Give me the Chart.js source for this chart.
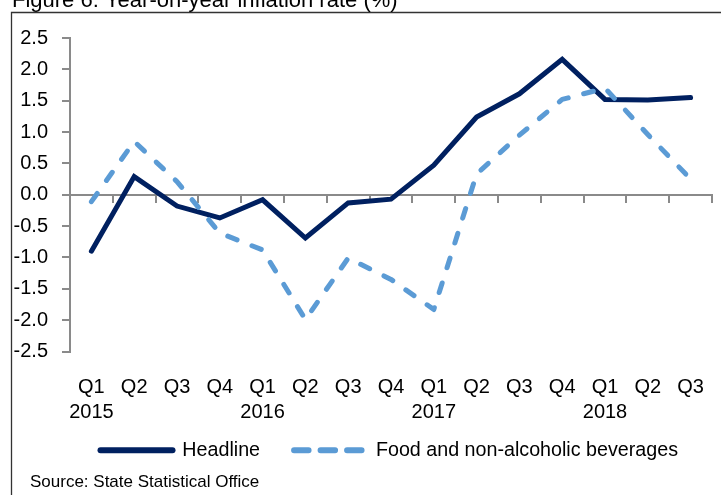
<!DOCTYPE html>
<html>
<head>
<meta charset="utf-8">
<script src="https://cdn.jsdelivr.net/npm/chart.js@4/dist/chart.umd.min.js"></script>
<style>
  html, body { margin: 0; padding: 0; background: #fff; }
  canvas { display: block; }
</style>
</head>
<body>
<canvas id="chart" width="721" height="495"></canvas>
<script>
// Quarterly categories (first quarter of each year carries the year underneath)
const quarters = ['Q1', 'Q2', 'Q3', 'Q4', 'Q1', 'Q2', 'Q3', 'Q4', 'Q1', 'Q2', 'Q3', 'Q4', 'Q1', 'Q2', 'Q3'];
const years = ['2015', '', '', '', '2016', '', '', '', '2017', '', '', '', '2018', '', ''];

// Year-on-year inflation, %
const headline = [-0.9, 0.29, -0.18, -0.37, -0.08, -0.69, -0.13, -0.07, 0.47, 1.24, 1.61, 2.16, 1.52, 1.51, 1.55];
const foodBeverages = [-0.11, 0.85, 0.21, -0.61, -0.88, -1.99, -1.01, -1.35, -1.83, 0.33, 0.95, 1.52, 1.70, 0.96, 0.25];

// Value axis
const yMin = -2.5;
const yMax = 2.5;
const yStep = 0.5;

const titleText = 'Figure 6: Year-on-year inflation rate (%)';
const sourceText = 'Source: State Statistical Office';

const FONT = '"Liberation Sans", Arial, sans-serif';
const AXIS_GREY = '#8a8a8a';
const NAVY = '#002060';
const LIGHT_BLUE = '#5b9bd5';

const labels = quarters.map((q, i) => years[i] ? [q, years[i]] : q);

// Frame, cut-off title and source note around the plot
const decorations = {
  id: 'decorations',
  afterDraw(chart) {
    const ctx = chart.ctx;
    ctx.save();
    ctx.strokeStyle = '#333';
    ctx.lineWidth = 1.3;
    ctx.beginPath();
    ctx.moveTo(11.5, 495);
    ctx.lineTo(11.5, 12.5);
    ctx.lineTo(721, 12.5);
    ctx.stroke();

    ctx.fillStyle = '#000';
    ctx.textAlign = 'left';
    ctx.textBaseline = 'alphabetic';
    ctx.font = '22px ' + FONT;
    ctx.fillText(titleText, 12, 6.5);

    ctx.textBaseline = 'middle';
    ctx.font = '17px ' + FONT;
    ctx.fillText(sourceText, 30, 482);
    ctx.restore();
  }
};

new Chart(document.getElementById('chart'), {
  type: 'line',
  data: {
    labels: labels,
    datasets: [
      {
        label: 'Headline',
        data: headline,
        borderColor: NAVY,
        backgroundColor: NAVY,
        borderWidth: 5,
        borderCapStyle: 'round',
        borderJoinStyle: 'miter',
        pointRadius: 0,
        tension: 0,
        fill: false,
        order: 1
      },
      {
        label: 'Food and non-alcoholic beverages',
        data: foodBeverages,
        borderColor: LIGHT_BLUE,
        backgroundColor: LIGHT_BLUE,
        borderWidth: 5,
        borderDash: [10, 16],
        borderCapStyle: 'round',
        borderJoinStyle: 'round',
        pointRadius: 0,
        tension: 0,
        fill: false,
        order: 0
      }
    ]
  },
  options: {
    responsive: false,
    animation: false,
    devicePixelRatio: 1,
    layout: { padding: { top: 38, left: 0, right: 9, bottom: 25 } },
    plugins: {
      tooltip: { enabled: false },
      title: { display: false },
      legend: {
        position: 'bottom',
        align: 'end',
        labels: {
          usePointStyle: true,
          pointStyle: 'line',
          pointStyleWidth: 72,
          padding: 34,
          color: '#000',
          font: { family: FONT, size: 19.7 },
          sort: (a, b) => a.datasetIndex - b.datasetIndex,
          generateLabels(chart) {
            const items = Chart.defaults.plugins.legend.labels.generateLabels(chart);
            items.forEach(item => {
              item.lineWidth = 6;
              item.lineCap = 'round';
              if (item.datasetIndex === 1) item.lineDash = [14.5, 12];
            });
            return items;
          }
        }
      }
    },
    scales: {
      // category axis carrying the data; reserves the room under the plot
      x: {
        type: 'category',
        position: 'bottom',
        offset: true,
        grid: { display: false },
        border: { display: false },
        ticks: { display: false },
        afterFit(scale) { scale.height = 54.8; }
      },
      // quarter / year labels, anchored at the bottom of the value range
      xLabels: {
        type: 'category',
        labels: labels,
        position: { y: yMin },
        offset: true,
        grid: { display: false },
        border: { display: false },
        ticks: {
          autoSkip: false,
          maxRotation: 0,
          padding: 15,
          color: '#000',
          font: { family: FONT, size: 20, lineHeight: 1.25 }
        }
      },
      // horizontal axis line at zero with a tick at every quarter boundary
      xZero: {
        type: 'linear',
        position: { y: 0 },
        min: 0,
        max: quarters.length,
        grid: {
          drawOnChartArea: false,
          drawTicks: true,
          tickLength: 7,
          color: AXIS_GREY,
          lineWidth: 2
        },
        border: { display: true, color: AXIS_GREY, width: 2 },
        ticks: { display: false, stepSize: 1, maxTicksLimit: 40 }
      },
      y: {
        position: 'left',
        min: yMin,
        max: yMax,
        afterFit(scale) { scale.width = 70; },
        grid: {
          drawOnChartArea: false,
          drawTicks: true,
          tickLength: 8,
          color: AXIS_GREY,
          lineWidth: 2
        },
        border: { display: true, color: AXIS_GREY, width: 2 },
        ticks: {
          stepSize: yStep,
          autoSkip: false,
          padding: 14,
          color: '#000',
          font: { family: FONT, size: 20 },
          callback: v => Number(v).toFixed(1)
        }
      }
    }
  },
  plugins: [decorations]
});
</script>
</body>
</html>
